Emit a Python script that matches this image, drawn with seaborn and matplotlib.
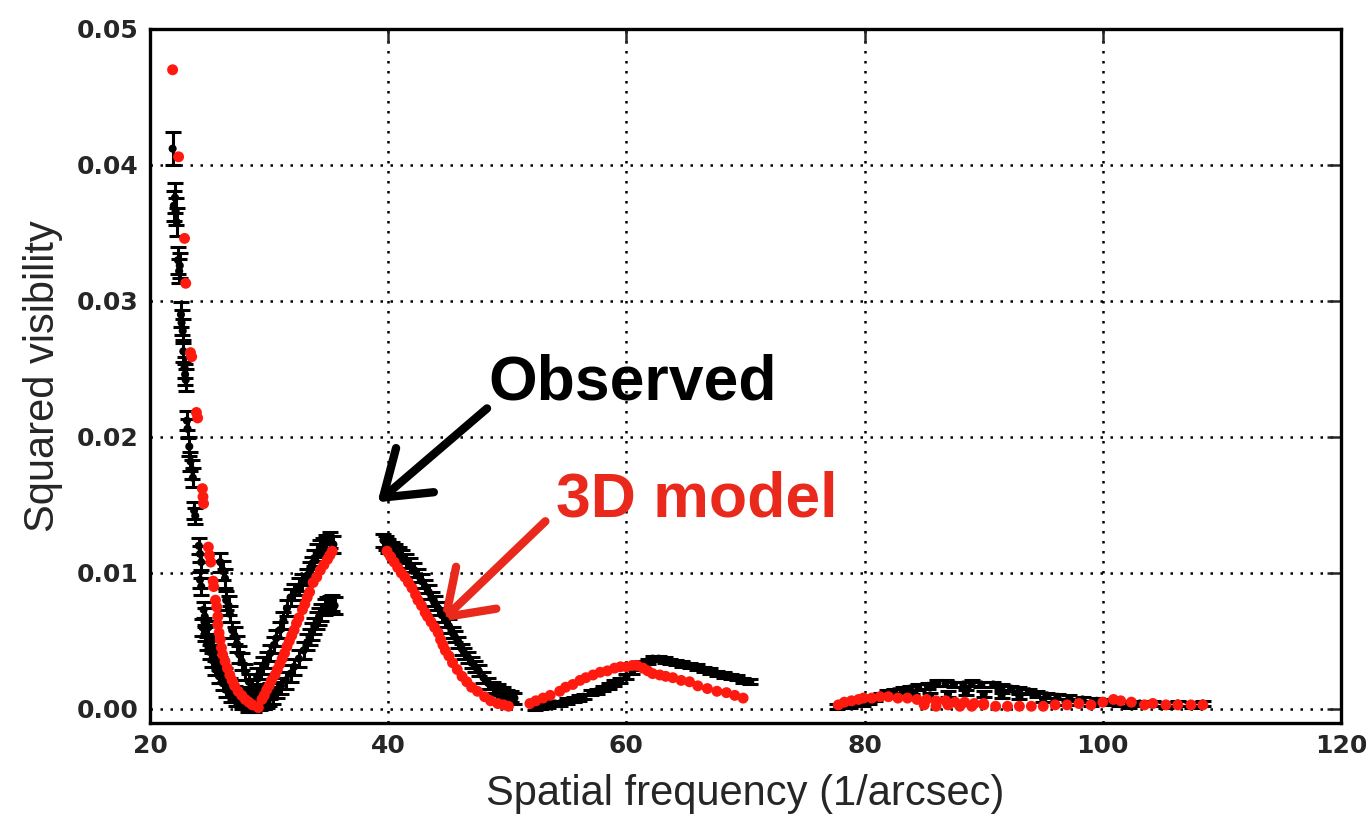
import matplotlib
matplotlib.use("Agg")
import matplotlib.pyplot as plt
import seaborn as sns
import pandas as pd

# Observed squared visibilities: spatial frequency (1/arcsec), V^2 and 1-sigma error
obs_freq = [
    # first lobe, descending side
    21.9, 22.0, 22.1, 22.15, 22.25, 22.35, 22.45, 22.5, 22.6, 22.65, 22.75, 22.8, 22.9, 22.95,
    23.0, 23.1, 23.15, 23.3, 23.4, 23.5, 23.6, 23.7, 23.8, 24.1, 24.2, 24.3, 24.2, 24.3, 24.5,
    24.6, 24.4, 24.6, 24.8, 25.0, 25.2, 25.5, 25.8, 26.1, 26.4, 26.8, 27.2, 27.7, 28.2,
    24.9, 25.2, 25.5, 25.9, 26.3, 26.7, 27.1, 27.6, 28.0,
    25.9, 26.1, 26.3, 26.4, 26.6, 26.7, 26.9, 27.1, 27.3, 27.5, 27.7, 28.0, 28.3, 28.6, 29.0,
    28.0, 28.4, 28.7, 28.9, 29.2, 29.5, 29.8, 30.1,
    # first lobe, rising side
    28.6, 29.0, 29.3, 29.5, 29.8, 30.1, 30.4, 30.6, 30.9, 31.2, 31.5, 31.8, 32.1, 32.5, 32.8,
    33.2, 33.4, 33.6, 33.8, 34.0, 34.3, 34.5, 34.8, 35.1, 35.4,
    29.6, 30.0, 30.3, 30.7, 31.0, 31.4, 31.8, 32.1, 32.5, 32.9, 33.2, 33.4, 33.6, 33.8, 34.0,
    34.2, 34.4, 34.7, 34.9, 35.1, 35.3, 35.5,
    # second lobe
    39.6, 39.8, 40.0, 40.3, 40.6, 40.9, 41.2, 41.5, 41.8, 42.2, 42.5, 42.8, 43.1, 43.4, 43.7,
    43.9, 44.2, 44.5, 44.8, 45.1, 45.4, 45.6, 45.9, 46.2, 46.4, 46.7, 47.0, 47.3, 47.6, 48.0,
    48.4, 48.8, 49.2, 49.6, 50.0, 50.3, 50.6,
    # third lobe
    52.3, 52.8, 53.4, 54.0, 54.4, 55.0, 55.6, 56.0, 56.4, 57.0, 57.5, 58.0, 58.5, 59.0, 59.5,
    60.0, 60.5, 60.9, 61.3, 61.8, 62.2, 62.7, 63.2, 63.7, 64.2, 64.7, 65.3, 65.9, 66.5, 67.0,
    67.6, 68.2, 68.8, 69.3, 69.8, 70.4,
    # fourth lobe
    77.7, 78.3, 78.8, 79.4, 79.9, 80.4, 80.9, 81.4, 81.9, 82.5, 83.2, 83.8, 84.5, 85.3, 86.1,
    86.8, 87.5, 88.3, 89.0, 89.8, 90.8, 91.5, 92.3, 93.0, 93.8, 94.5, 95.3, 96.2, 97.2, 98.3,
    99.5, 100.5, 101.4, 102.2, 103.1, 104.2, 105.3, 106.3, 107.5, 108.4,
    84.0, 85.5, 87.0, 88.5, 90.0, 91.5, 93.0, 95.0, 97.0, 99.0,
]
obs_v2 = [
    0.0412, 0.0370, 0.0376, 0.0366, 0.0358, 0.0330, 0.0322, 0.0326, 0.0290, 0.0284, 0.0278, 0.0263, 0.0251, 0.0246,
    0.0242, 0.0212, 0.0206, 0.0193, 0.0182, 0.0176, 0.0170, 0.0146, 0.0142, 0.0120, 0.0114, 0.0108, 0.0095, 0.0090, 0.0073,
    0.0068, 0.0060, 0.0055, 0.0048, 0.0042, 0.0036, 0.0030, 0.0024, 0.0019, 0.0014, 0.0010, 0.0007, 0.0005, 0.0003,
    0.0060, 0.0050, 0.0042, 0.0033, 0.0025, 0.0018, 0.0012, 0.0008, 0.0005,
    0.0108, 0.0102, 0.0096, 0.0080, 0.0076, 0.0070, 0.0058, 0.0054, 0.0048, 0.0040, 0.0035, 0.0027, 0.0020, 0.0015, 0.0010,
    0.0010, 0.0006, 0.0004, 0.0009, 0.0005, 0.0012, 0.0007, 0.0013,
    0.0016, 0.0024, 0.0028, 0.0032, 0.0036, 0.0041, 0.0047, 0.0052, 0.0058, 0.0065, 0.0074, 0.0082, 0.0086, 0.0090, 0.0093,
    0.0097, 0.0102, 0.0106, 0.0111, 0.0115, 0.0118, 0.0120, 0.0122, 0.0124, 0.0121,
    0.0006, 0.0008, 0.0010, 0.0014, 0.0017, 0.0021, 0.0026, 0.0031, 0.0037, 0.0043, 0.0049, 0.0053, 0.0057, 0.0061, 0.0065,
    0.0068, 0.0071, 0.0075, 0.0076, 0.0077, 0.0078, 0.0076,
    0.0124, 0.0122, 0.0120, 0.0118, 0.0116, 0.0114, 0.0112, 0.0109, 0.0106, 0.0102, 0.0098, 0.0094, 0.0090, 0.0086, 0.0081,
    0.0078, 0.0074, 0.0069, 0.0065, 0.0061, 0.0056, 0.0053, 0.0049, 0.0044, 0.0041, 0.0038, 0.0034, 0.0031, 0.0028, 0.0023,
    0.0019, 0.0016, 0.0014, 0.0012, 0.0010, 0.0009, 0.0008,
    0.0001, 0.0002, 0.0003, 0.0004, 0.0004, 0.0006, 0.0007, 0.0008, 0.0009, 0.0012, 0.0013, 0.0015, 0.0017, 0.0019, 0.0021,
    0.0024, 0.0028, 0.0031, 0.0033, 0.0035, 0.0037, 0.0037, 0.0036, 0.0035, 0.0034, 0.0033, 0.0032, 0.0031, 0.0029, 0.0028,
    0.0026, 0.0025, 0.0024, 0.0023, 0.0021, 0.0020,
    0.0002, 0.0003, 0.0003, 0.0004, 0.0004, 0.0006, 0.0008, 0.0010, 0.0012, 0.0013, 0.0014, 0.0015, 0.0016, 0.0017, 0.0019,
    0.0019, 0.0018, 0.0018, 0.0019, 0.0018, 0.0018, 0.0016, 0.0015, 0.0014, 0.0013, 0.0011, 0.0010, 0.0009, 0.0008, 0.0007,
    0.0006, 0.0005, 0.0004, 0.0003, 0.0004, 0.0004, 0.0003, 0.0004, 0.0003, 0.0004,
    0.0009, 0.0010, 0.0011, 0.0012, 0.0011, 0.0010, 0.0009, 0.0007, 0.0005, 0.0004,
]
obs_err = (
    [0.0012, 0.0011, 0.0011, 0.0010, 0.0010, 0.0010, 0.0009, 0.0009, 0.0009, 0.0009, 0.0009, 0.0008, 0.0008, 0.0008,
     0.0008, 0.0007, 0.0007, 0.0007, 0.0007, 0.0007, 0.0007, 0.0006, 0.0006, 0.0006, 0.0006, 0.0006, 0.0006, 0.0006, 0.0006,
     0.0006, 0.0006, 0.0005, 0.0005, 0.0005, 0.0005, 0.0005, 0.0005, 0.0005, 0.0005, 0.0005, 0.0005, 0.0005, 0.0005]
    + [0.0005] * 9
    + [0.0007, 0.0007, 0.0007, 0.0007, 0.0007, 0.0006, 0.0006, 0.0006, 0.0006, 0.0006, 0.0006, 0.0006, 0.0006, 0.0006, 0.0006]
    + [0.0006] * 8
    + [0.0006] * 25
    + [0.0006] * 22
    + [0.0005] * 20 + [0.0004] * 17
    + [0.0002] * 36
    + [0.0002] * 40
    + [0.0002] * 10
)

# Model squared visibilities from the 3D simulation
model_freq = [
    21.9, 22.4, 22.9, 23.0, 23.4, 23.5, 23.9, 24.0, 24.4, 24.45, 24.5, 24.9, 25.0, 25.1, 25.3,
    25.35, 25.5, 25.6, 25.7, 25.7, 25.8, 25.9, 26.0, 26.1, 26.3, 26.5, 26.7, 26.9, 27.1, 27.4,
    27.7, 28.0, 28.3, 28.6, 29.1,
    29.4, 29.6, 29.8, 30.0, 30.2, 30.5, 30.7, 30.9, 31.1, 31.3, 31.5, 31.7, 31.9, 32.1, 32.3,
    32.5, 32.8, 33.0, 33.2, 33.4, 33.7, 34.0, 34.3, 34.6, 34.9, 35.1, 35.3,
    39.9, 40.2, 40.5, 40.8, 41.1, 41.4, 41.7, 42.0, 42.3, 42.5, 42.8, 43.1, 43.3, 43.6, 43.9,
    44.2, 44.4, 44.6, 44.8, 45.1, 45.4, 45.8, 46.2, 46.6, 47.0, 47.5, 48.1, 48.6, 49.2, 49.7, 50.1,
    51.9, 52.4, 53.0, 53.6, 54.4, 54.9, 55.5, 56.1, 56.6, 57.2, 57.8, 58.4, 59.0, 59.5, 60.0,
    60.5, 60.9, 61.4, 61.8, 62.2, 62.8, 63.3, 63.9, 64.6, 65.3, 66.0, 66.8, 67.6, 68.4, 69.1, 69.8,
    77.8, 78.3, 78.9, 79.5, 79.9, 80.6, 81.3, 82.0, 82.8, 83.6, 84.4, 85.2, 86.0, 86.8, 87.6,
    88.4, 89.2, 90.0,
    85.0, 86.0, 87.0, 88.0, 89.0, 90.0, 91.0, 92.0, 93.0, 94.0, 95.0, 96.0, 97.0, 98.0, 99.0,
    100.0, 100.9, 101.5, 102.4, 103.5, 104.2, 105.3, 106.3, 107.4, 108.4,
]
model_v2 = [
    0.0470, 0.0406, 0.0346, 0.0313, 0.0262, 0.0259, 0.0218, 0.0214, 0.0162, 0.0156, 0.0151, 0.0119, 0.0113, 0.0108, 0.0094,
    0.0090, 0.0080, 0.0075, 0.0068, 0.0062, 0.0056, 0.0051, 0.0045, 0.0040, 0.0035, 0.0030, 0.0025, 0.0021, 0.0017, 0.0013,
    0.0010, 0.0007, 0.0005, 0.0003, 0.0001,
    0.0007, 0.0010, 0.0014, 0.0017, 0.0021, 0.0025, 0.0029, 0.0033, 0.0037, 0.0041, 0.0046, 0.0050, 0.0054, 0.0058, 0.0063,
    0.0067, 0.0073, 0.0077, 0.0082, 0.0086, 0.0093, 0.0097, 0.0102, 0.0106, 0.0110, 0.0113, 0.0116,
    0.0116, 0.0112, 0.0108, 0.0104, 0.0100, 0.0097, 0.0093, 0.0089, 0.0084, 0.0080, 0.0076, 0.0071, 0.0068, 0.0064, 0.0060,
    0.0056, 0.0051, 0.0047, 0.0043, 0.0039, 0.0034, 0.0029, 0.0024, 0.0020, 0.0016, 0.0013, 0.0009, 0.0006, 0.0004, 0.0003, 0.0002,
    0.0004, 0.0006, 0.0008, 0.0010, 0.0013, 0.0016, 0.0018, 0.0021, 0.0023, 0.0025, 0.0027, 0.0028, 0.0030, 0.0031, 0.0031,
    0.0032, 0.0032, 0.0030, 0.0028, 0.0026, 0.0025, 0.0024, 0.0023, 0.0021, 0.0020, 0.0017, 0.0015, 0.0013, 0.0012, 0.0010, 0.0008,
    0.0003, 0.0005, 0.0006, 0.0007, 0.0008, 0.0008, 0.0009, 0.0009, 0.0008, 0.0008, 0.0007, 0.0007, 0.0006, 0.0006, 0.0005,
    0.0005, 0.0004, 0.0004,
    0.0003, 0.0002, 0.0003, 0.0002, 0.0002, 0.0003, 0.0002, 0.0002, 0.0002, 0.0002, 0.0002, 0.0003, 0.0003, 0.0004, 0.0003,
    0.0005, 0.0007, 0.0006, 0.0005, 0.0003, 0.0004, 0.0003, 0.0003, 0.0003, 0.0003,
]

x_ticks = [20, 40, 60, 80, 100, 120]
y_ticks = [0.00, 0.01, 0.02, 0.03, 0.04, 0.05]
x_label = "Spatial frequency (1/arcsec)"
y_label = "Squared visibility"
obs_label = "Observed"
model_label = "3D model"

obs = pd.DataFrame({"freq": obs_freq, "v2": obs_v2, "err": obs_err})
model = pd.DataFrame({"freq": model_freq, "v2": model_v2})

sns.set_style("white")
plt.rcParams["font.family"] = ["DejaVu Sans"]

fig = plt.figure(figsize=(13.66, 8.16), dpi=100)
ax = fig.add_axes([0.1098, 0.1145, 0.8719, 0.8500])

red = "#ff1a10"
anno_red = "#e8291c"

ax.errorbar(obs["freq"], obs["v2"], yerr=obs["err"], fmt="none", ecolor="black",
            elinewidth=2.2, capsize=6, capthick=2.2, zorder=3)
sns.scatterplot(data=obs, x="freq", y="v2", ax=ax, color="black", s=34,
                edgecolor="none", zorder=4, legend=False)
sns.scatterplot(data=model, x="freq", y="v2", ax=ax, color=red, s=62,
                edgecolor="none", zorder=5, legend=False)

ax.set_xlim(20, 120)
ax.set_ylim(-0.001, 0.05)
ax.set_xticks(x_ticks)
ax.set_yticks(y_ticks)
ax.set_xticklabels([str(t) for t in x_ticks], fontsize=18, fontweight="bold")
ax.set_yticklabels([f"{t:.2f}" for t in y_ticks], fontsize=18, fontweight="bold")
ax.set_xlabel(x_label, fontsize=30, family="Liberation Sans", labelpad=12)
ax.set_ylabel(y_label, fontsize=30, family="Liberation Sans", labelpad=10)

ax.grid(True, color="black", linestyle=(0, (1, 3)), linewidth=1.8)
ax.set_axisbelow(True)
ax.tick_params(direction="in", length=10, width=1.8, top=True, right=True, pad=8)
for sp in ax.spines.values():
    sp.set_linewidth(2.4)
    sp.set_color("black")

# Callouts
ax.text(60.5, 0.0240, obs_label, fontsize=45, fontweight="bold", color="black",
        family="Liberation Sans", ha="center", va="center")
ax.annotate("", xy=(39.1, 0.0152), xytext=(48.3, 0.0221),
            arrowprops=dict(arrowstyle="->,head_length=0.55,head_width=0.38",
                            mutation_scale=55, lw=6, color="black",
                            shrinkA=0, shrinkB=0))
ax.text(65.9, 0.0154, model_label, fontsize=45, fontweight="bold", color=anno_red,
        family="Liberation Sans", ha="center", va="center")
ax.annotate("", xy=(44.4, 0.0064), xytext=(53.2, 0.0138),
            arrowprops=dict(arrowstyle="->,head_length=0.55,head_width=0.38",
                            mutation_scale=55, lw=6, color=anno_red,
                            shrinkA=0, shrinkB=0))

fig.savefig("out.png", dpi=100)
